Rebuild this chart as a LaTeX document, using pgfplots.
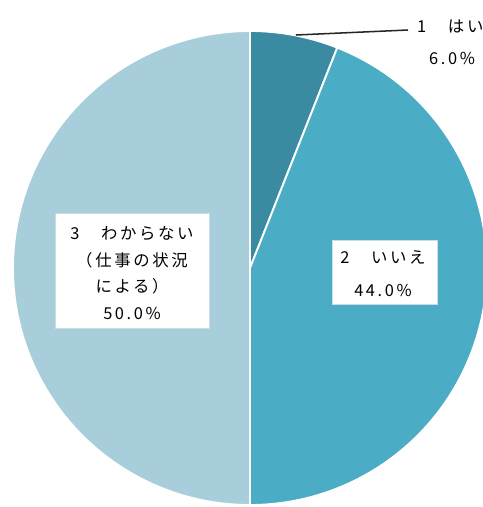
\documentclass[border=0pt]{standalone}
\usepackage{pgfplots}
\usepackage{pgfplotstable}
\pgfplotsset{compat=1.18}
\usepackage{fontspec}
\setmainfont{Noto Sans CJK JP}[LetterSpace=16]
\definecolor{cA}{HTML}{3A8AA1}
\definecolor{cB}{HTML}{4BACC6}
\definecolor{cC}{HTML}{A8CEDC}
\definecolor{boxline}{HTML}{C8DDE4}
\pgfplotstableread{
id value
1 6.0
2 44.0
3 50.0
}\piedata
\begin{document}
\begin{tikzpicture}
\useasboundingbox (0,0) rectangle (14.49cm,15.21cm);
\pgfplotstablegetelem{0}{value}\of\piedata \let\vA\pgfplotsretval
\pgfplotstablegetelem{1}{value}\of\piedata \let\vB\pgfplotsretval
\pgfplotstablegetelem{2}{value}\of\piedata \let\vC\pgfplotsretval
\pgfmathsetmacro\aA{90}
\pgfmathsetmacro\aB{\aA-3.6*\vA}
\pgfmathsetmacro\aC{\aB-3.6*\vB}
\pgfmathsetmacro\aD{\aC-3.6*\vC}
\def\R{7.11cm}
\begin{axis}[
  at={(0,0)}, anchor=south west,
  scale only axis, width=14.49cm, height=15.21cm,
  xmin=0, xmax=483, ymin=0, ymax=507, y dir=reverse,
  hide axis, clip=true,
]
\fill[cA, draw=white, line width=1.6pt] (axis cs:250,268) -- ++(\aA:\R) arc[start angle=\aA, end angle=\aB, radius=\R] -- cycle;
\fill[cB, draw=white, line width=1.6pt] (axis cs:250,268) -- ++(\aB:\R) arc[start angle=\aB, end angle=\aC, radius=\R] -- cycle;
\fill[cC, draw=white, line width=1.6pt] (axis cs:250,268) -- ++(\aC:\R) arc[start angle=\aC, end angle=\aD, radius=\R] -- cycle;
% label boxes
\node[fill=white, draw=boxline, line width=0.5pt, minimum width=4.62cm, minimum height=3.45cm, inner sep=0pt] at (axis cs:132,270.5) {};
\node[fill=white, draw=boxline, line width=0.5pt, minimum width=3.15cm, minimum height=1.92cm, inner sep=0pt] at (axis cs:384.5,272) {};
\begin{scope}[every node/.style={font=\fontsize{14}{16}\selectfont, text=black, inner sep=0pt}]
\node at (axis cs:132,233) {3　わからない};
\node at (axis cs:132,260) {（仕事の状況};
\node at (axis cs:132,286) {による）};
\node at (axis cs:132,313) {50.0\%};
\node at (axis cs:383,257) {2　いいえ};
\node at (axis cs:383,290) {44.0\%};
\node[anchor=west] at (axis cs:417,26) {1　はい};
\node at (axis cs:452,58) {6.0\%};
\end{scope}
\draw[black!85, line width=1.3pt] (axis cs:296,35) -- (axis cs:408,30);
\end{axis}
\end{tikzpicture}
\end{document}
